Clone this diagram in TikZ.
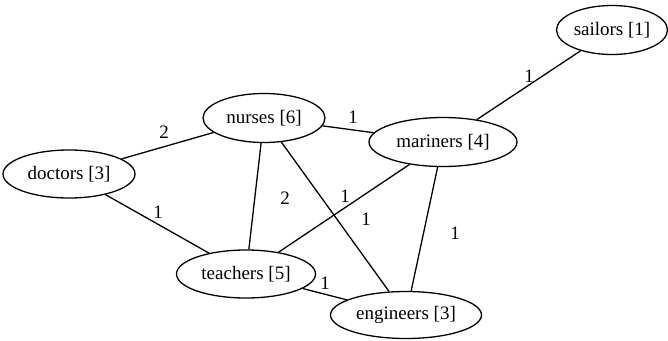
\documentclass[tikz,border=0pt]{standalone}
\usepackage{fontspec}
\setmainfont{Liberation Serif}
\usetikzlibrary{shapes.geometric}
\begin{document}
\begin{tikzpicture}[x=1pt,y=-1pt,
  vertex/.style={draw,ellipse,line width=1.3pt,inner sep=0pt,font=\fontsize{19}{20}\selectfont},
  edge/.style={line width=1.3pt},
  weight/.style={font=\fontsize{19}{20}\selectfont,inner sep=0pt}]
\useasboundingbox (0,0) rectangle (668,340);
% professions with their counts
\node[vertex,minimum width=111pt,minimum height=49pt] (sailors)   at (612,30)  {sailors [1]};
\node[vertex,minimum width=122pt,minimum height=49pt] (nurses)    at (264,118) {nurses [6]};
\node[vertex,minimum width=132pt,minimum height=48pt] (doctors)   at (69,174)  {doctors [3]};
\node[vertex,minimum width=148pt,minimum height=49pt] (mariners)  at (443,142) {mariners [4]};
\node[vertex,minimum width=139pt,minimum height=48pt] (teachers)  at (246,274) {teachers [5]};
\node[vertex,minimum width=151pt,minimum height=47pt] (engineers) at (406,315) {engineers [3]};
% links
\draw[edge] (doctors) -- (nurses);
\draw[edge] (nurses) -- (mariners);
\draw[edge] (mariners) -- (sailors);
\draw[edge] (doctors) -- (teachers);
\draw[edge] (nurses) -- (teachers);
\draw[edge] (nurses) -- (engineers);
\draw[edge] (mariners) -- (teachers);
\draw[edge] (mariners) -- (engineers);
\draw[edge] (teachers) -- (engineers);
% link weights
\node[weight] (w1) at (164,132) {2};
\node[weight] (w2) at (353,117) {1};
\node[weight] (w3) at (529,76)  {1};
\node[weight] (w4) at (158,212) {1};
\node[weight] (w5) at (285,198) {2};
\node[weight] (w6) at (366,219) {1};
\node[weight] (w7) at (345,196) {1};
\node[weight] (w8) at (455,233) {1};
\node[weight] (w9) at (325,283) {1};
\end{tikzpicture}
\end{document}
